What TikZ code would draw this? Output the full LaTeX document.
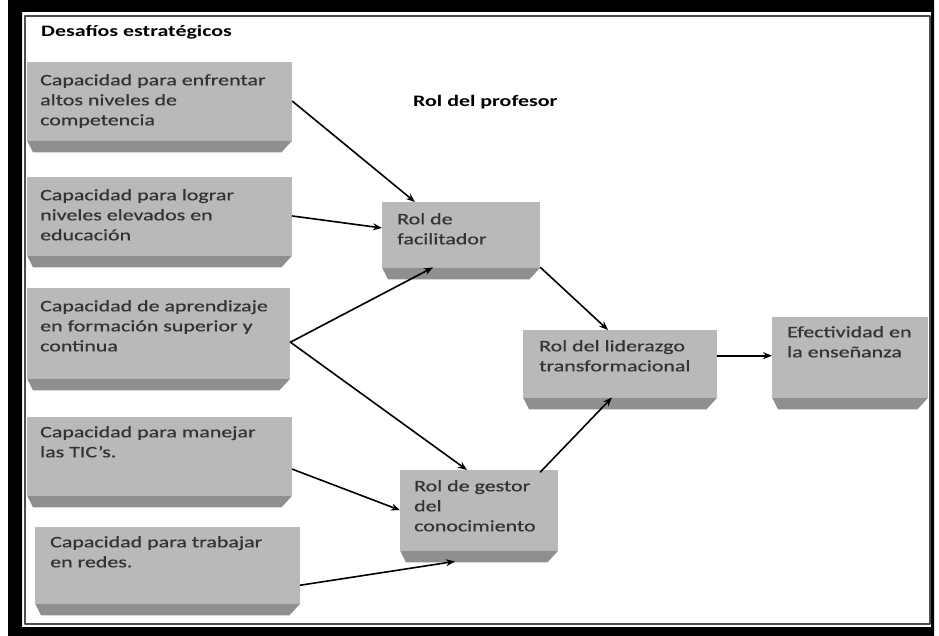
\documentclass[tikz,border=0pt]{standalone}
\usepackage{fontspec}
\setmainfont{Carlito}[FakeStretch=1.37]
\newfontfamily\cajafont{Carlito}[FakeStretch=1.37, FakeBold=0.6]
\usetikzlibrary{arrows.meta}
\definecolor{cara}{HTML}{B9B9B9}
\definecolor{bisel}{HTML}{8F8F8F}
\definecolor{letra}{HTML}{333333}
\tikzset{
	caja/.style={fill=cara, anchor=north west, inner sep=0pt},
	texto/.style={anchor=north west, align=left, inner xsep=13pt, inner ysep=12pt, text=letra, font=\cajafont\fontsize{16}{20}\selectfont},
	titulo/.style={anchor=base west, inner sep=0pt, font=\fontsize{16}{20}\selectfont\bfseries},
	flecha/.style={->, line width=1.6pt}
}
\begin{document}
\begin{tikzpicture}[x=1pt, y=-1pt, line join=round, line cap=round, >={Stealth[length=9pt,width=7pt]}]
	\useasboundingbox (0,0) rectangle (939,636);
	\fill[white] (0,0) rectangle (939,636);
	% marco
	\fill[black, even odd rule] (8,0) rectangle (934,636) (22,12) rectangle (931,627);
	\draw[line width=1.5pt, black!70] (25,16) rectangle (930,624);
	\node[titulo] (t1) at (41,37) {Desafíos estratégicos};
	\node[titulo] (t2) at (413,107) {Rol del profesor};
	% desafios
	\node[caja, minimum width=265, minimum height=78] (d1) at (27,62) {};
	\node[caja, minimum width=265, minimum height=78] (d2) at (27,177) {};
	\node[caja, minimum width=263, minimum height=90] (d3) at (27,288) {};
	\node[caja, minimum width=265, minimum height=78] (d4) at (27,417) {};
	\node[caja, minimum width=265, minimum height=76] (d5) at (35,527) {};
	% roles
	\node[caja, minimum width=158, minimum height=65] (rf) at (382,202) {};
	\node[caja, minimum width=158, minimum height=80] (rg) at (400,470) {};
	\node[caja, minimum width=194, minimum height=67] (rl) at (523,330) {};
	\node[caja, minimum width=156, minimum height=80] (ef) at (772,317) {};
	\foreach \n in {d1,d2,d3,d4,d5,rf,rg,rl,ef}
		\fill[bisel] (\n.south west) -- (\n.south east) -- ([xshift=-11pt,yshift=-12pt]\n.south east)
			-- ([xshift=6pt,yshift=-12pt]\n.south west) -- cycle;
	\node[texto] (d1t) at (d1.north west) {Capacidad para enfrentar\\altos niveles de\\competencia};
	\node[texto] (d2t) at (d2.north west) {Capacidad para lograr\\niveles elevados en\\educación};
	\node[texto] (d3t) at (d3.north west) {Capacidad de aprendizaje\\en formación superior y\\continua};
	\node[texto, inner ysep=9pt] (d4t) at (d4.north west) {Capacidad para manejar\\las TIC’s.};
	\node[texto, inner xsep=15pt, inner ysep=9pt] (d5t) at (d5.north west) {Capacidad para trabajar\\en redes.};
	\node[texto, inner xsep=15pt, inner ysep=11pt] (rft) at (rf.north west) {Rol de\\facilitador};
	\node[texto, inner xsep=14pt, inner ysep=10pt] (rgt) at (rg.north west) {Rol de gestor\\del\\conocimiento};
	\node[texto, inner xsep=16pt, inner ysep=10pt] (rlt) at (rl.north west) {Rol del liderazgo\\transformacional};
	\node[texto, inner xsep=15pt, inner ysep=9pt] (eft) at (ef.north west) {Efectividad en\\la enseñanza};
	% flechas
	\draw[flecha] (d1.east) -- ([xshift=33pt]rf.north west);
	\draw[flecha] ([yshift=-39pt]d2.north east) -- ([yshift=-26pt]rf.north west);
	\coordinate (p3) at ([yshift=-9pt]d3.east);
	\draw[flecha] (p3) -- ([xshift=51pt]rf.south west);
	\draw[flecha] (p3) -- ([xshift=67pt]rg.north west);
	\draw[flecha] ([yshift=-13pt]d4.east) -- (rg.west);
	\draw[flecha] ([yshift=-20pt]d5.east) -- ([xshift=55pt,yshift=-11pt]rg.south west);
	\draw[flecha] (rf.south east) -- ([xshift=85pt]rl.north west);
	\draw[flecha] ([xshift=-18pt,yshift=-2pt]rg.north east) -- ([xshift=89pt]rl.south west);
	\draw[flecha] ([yshift=8pt]rl.east) -- ([yshift=8pt]rl.east -| ef.west);
\end{tikzpicture}
\end{document}
